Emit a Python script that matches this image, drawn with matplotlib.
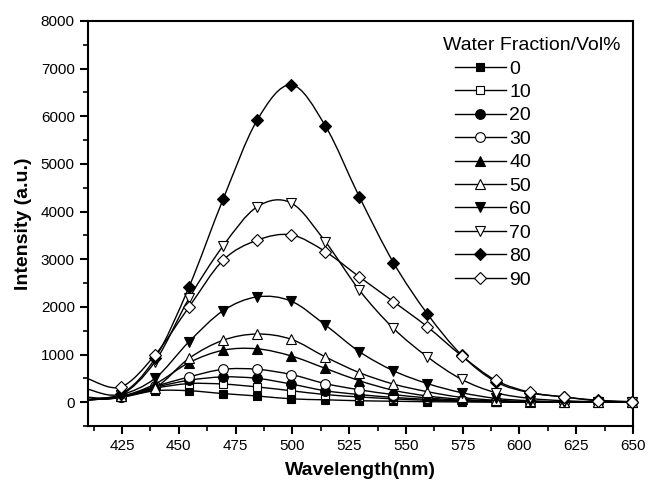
import numpy as np
import matplotlib
matplotlib.use("Agg")
import matplotlib.pyplot as plt
from matplotlib.path import Path
from matplotlib.patches import PathPatch
from matplotlib.lines import Line2D
from matplotlib.ticker import MultipleLocator

plt.rcParams['font.family'] = ['Liberation Sans', 'DejaVu Sans']

# wavelength of each read point (first one is the left edge of the plot, no marker)
wavelength = [410, 424.5, 439.5, 454.5, 469.5, 484.5, 499.5, 514.5, 529.5,
              544.5, 559.5, 574.5, 589.5, 604.5, 619.5, 634.5, 649.5]

fractions = ['0', '10', '20', '30', '40', '50', '60', '70', '80', '90']

i_0 = [50, 100, 240, 240, 180, 130, 70, 50, 30, 20, 10, 5, 0, 0, 0, 0, 0]
i_10 = [50, 100, 290, 390, 380, 320, 240, 160, 110, 70, 40, 20, 10, 0, 0, 0, 0]
i_20 = [50, 100, 310, 460, 530, 500, 380, 240, 160, 100, 60, 30, 15, 5, 0, 0, 0]
i_30 = [50, 110, 330, 530, 690, 690, 580, 390, 260, 160, 90, 40, 15, 5, 0, 0, 0]
i_40 = [50, 120, 380, 830, 1090, 1120, 970, 710, 450, 250, 130, 60, 25, 10, 0, 0, 0]
i_50 = [50, 130, 300, 920, 1300, 1430, 1320, 950, 620, 380, 220, 100, 40, 15, 5, 0, 0]
i_60 = [60, 150, 500, 1270, 1920, 2210, 2120, 1620, 1060, 660, 390, 200, 80, 30, 10, 0, 0]
i_70 = [100, 150, 850, 2180, 3280, 4100, 4180, 3370, 2350, 1550, 950, 480, 200, 80, 30, 10, 0]
i_80 = [270, 180, 920, 2420, 4260, 5920, 6660, 5800, 4310, 2930, 1850, 990, 430, 200, 110, 40, 10]
i_90 = [490, 320, 990, 2000, 2980, 3400, 3510, 3160, 2630, 2110, 1580, 975, 460, 210, 110, 30, 10]

series = [i_0, i_10, i_20, i_30, i_40, i_50, i_60, i_70, i_80, i_90]
markers = ['s', 's', 'o', 'o', '^', '^', 'v', 'v', 'D', 'D']
filled = [True, False, True, False, True, False, True, False, True, False]
msizes = [6, 6, 7, 7, 7, 7, 7, 7, 6, 6]


def spline_path(x, y):
    # Catmull-Rom segments turned into cubic bezier pieces
    pts = np.column_stack([x, y]).astype(float)
    n = len(pts)
    verts = [pts[0]]
    codes = [Path.MOVETO]
    for i in range(n - 1):
        p0 = pts[max(i - 1, 0)]
        p1 = pts[i]
        p2 = pts[i + 1]
        p3 = pts[min(i + 2, n - 1)]
        c1 = p1 + (p2 - p0) / 6.0
        c2 = p2 - (p3 - p1) / 6.0
        verts += [c1, c2, p2]
        codes += [Path.CURVE4] * 3
    return Path(verts, codes)


W, H = 650, 486
fig = plt.figure(figsize=(6.5, 4.86), dpi=100)
ax = fig.add_axes([88 / W, 1 - 426 / H, (633 - 88) / W, (426 - 21) / H])

handles = []
for k, (vals, m, f, ms) in enumerate(zip(series, markers, filled, msizes)):
    patch = PathPatch(spline_path(wavelength, vals), facecolor='none',
                      edgecolor='black', lw=1.0, zorder=2 + k * 0.1)
    ax.add_patch(patch)
    ax.plot(wavelength[1:], vals[1:], linestyle='none', marker=m, ms=ms,
            mfc='black' if f else 'white', mec='black', mew=0.8,
            clip_on=False, zorder=2.05 + k * 0.1)
    handles.append(Line2D([], [], color='black', lw=1.0, marker=m, ms=ms,
                          mfc='black' if f else 'white', mec='black', mew=0.8))

ax.set_xlim(410, 650)
ax.set_ylim(-500, 8000)
ax.xaxis.set_minor_locator(MultipleLocator(12.5))
ax.yaxis.set_major_locator(MultipleLocator(1000))
ax.yaxis.set_minor_locator(MultipleLocator(500))
ax.set_xticks([425, 450, 475, 500, 525, 550, 575, 600, 625, 650])

for s in ax.spines.values():
    s.set_linewidth(1.5)
ax.tick_params(which='major', direction='out', length=6, width=1.5,
               labelsize=11, top=False, right=False)
ax.tick_params(which='minor', direction='out', length=3.5, width=1.2,
               top=False, right=False)

ax.set_xlabel('Wavelength(nm)', fontsize=14, fontweight='bold', labelpad=6)
ax.set_ylabel('Intensity (a.u.)', fontsize=14, fontweight='bold', labelpad=6)

fig.text(443 / W, 1 - 45 / H, 'Water Fraction/Vol%', fontsize=14,
         ha='left', va='center')
ax.legend(handles, fractions, loc='upper left',
          bbox_to_anchor=(455 / W, 1 - 60 / H), bbox_transform=fig.transFigure,
          frameon=False, fontsize=14, labelspacing=0.3, handlelength=2.6,
          handletextpad=0.2, borderpad=0, borderaxespad=0)

fig.savefig('out.png', dpi=100)
